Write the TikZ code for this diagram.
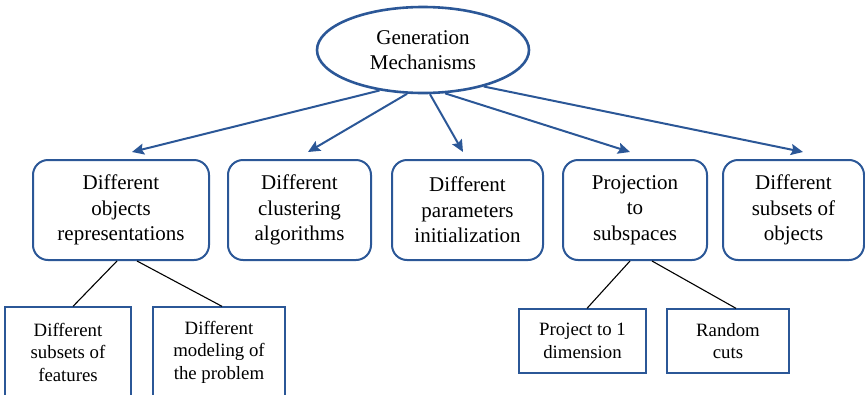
\documentclass[tikz,border=0pt]{standalone}
\usepackage{fontspec}
\setmainfont{Liberation Serif}
\newfontfamily\lserif{Liberation Serif}
\usetikzlibrary{shapes.geometric,arrows.meta}
\definecolor{mblue}{HTML}{2B5797}
\tikzset{
  topbox/.style={draw=mblue, line width=2pt, rounded corners=15pt, align=center, inner sep=0pt,
    font=\lserif\fontsize{21}{25.5}\selectfont},
  subbox/.style={draw=mblue, line width=1.3pt, align=center, inner sep=0pt,
    font=\lserif\fontsize{18.8}{22.5}\selectfont},
  arr/.style={draw=mblue, line width=2pt, -{Stealth[length=12pt,width=11pt,inset=2pt]}},
  link/.style={draw=black, line width=1.1pt}
}
\begin{document}
\begin{tikzpicture}[x=1pt,y=-1pt]
\useasboundingbox (0,0) rectangle (865,394);
\clip (0,0) rectangle (865,394);
\node[draw=mblue, line width=2.6pt, ellipse, minimum width=212pt, minimum height=86pt, inner sep=0pt,
  align=center, font=\lserif\fontsize{21}{25}\selectfont] (gm) at (423,50) {Generation\\Mechanisms};

\node[topbox, minimum width=176pt, minimum height=100pt] (b1) at (121,210) {Different\\objects\\representations};
\node[topbox, minimum width=143pt, minimum height=100pt] (b2) at (299.5,210) {Different\\clustering\\algorithms};
\node[topbox, minimum width=151pt, minimum height=100pt] (b3) at (467.5,210) {Different\\parameters\\initialization};
\node[topbox, minimum width=144pt, minimum height=100pt] (b4) at (635,210) {Projection\\to\\subspaces};
\node[topbox, minimum width=141pt, minimum height=100pt] (b5) at (793.5,210) {Different\\subsets of\\objects};

\node[subbox, minimum width=126pt, minimum height=90pt] (sa) at (68,352) {Different\\subsets of\\features};
\node[subbox, minimum width=132pt, minimum height=90pt] (sb) at (219,352) {Different\\modeling of\\the problem};
\node[subbox, minimum width=127pt, minimum height=64pt] (sc) at (582.5,341) {Project to 1\\dimension};
\node[subbox, minimum width=122pt, minimum height=64pt] (sd) at (728,341) {Random\\cuts};

\draw[arr] (gm.223) -- ([xshift=11pt,yshift=7pt]b1.north);
\draw[arr] (gm.250) -- ([xshift=8.5pt,yshift=7pt]b2.north);
\draw[arr] (gm.279) -- ([xshift=-4.5pt,yshift=7pt]b3.north);
\draw[arr] (gm.297) -- ([xshift=-5pt,yshift=7pt]b4.north);
\draw[arr] (gm.329) -- ([xshift=9.5pt,yshift=7pt]b5.north);

\draw[link] ([xshift=-4pt]b1.south) -- ([xshift=5pt]sa.north);
\draw[link] ([xshift=16pt]b1.south) -- ([xshift=3pt]sb.north);
\draw[link] ([xshift=-5pt]b4.south) -- ([xshift=4.5pt]sc.north);
\draw[link] ([xshift=17pt]b4.south) -- ([xshift=8pt]sd.north);
\end{tikzpicture}
\end{document}
